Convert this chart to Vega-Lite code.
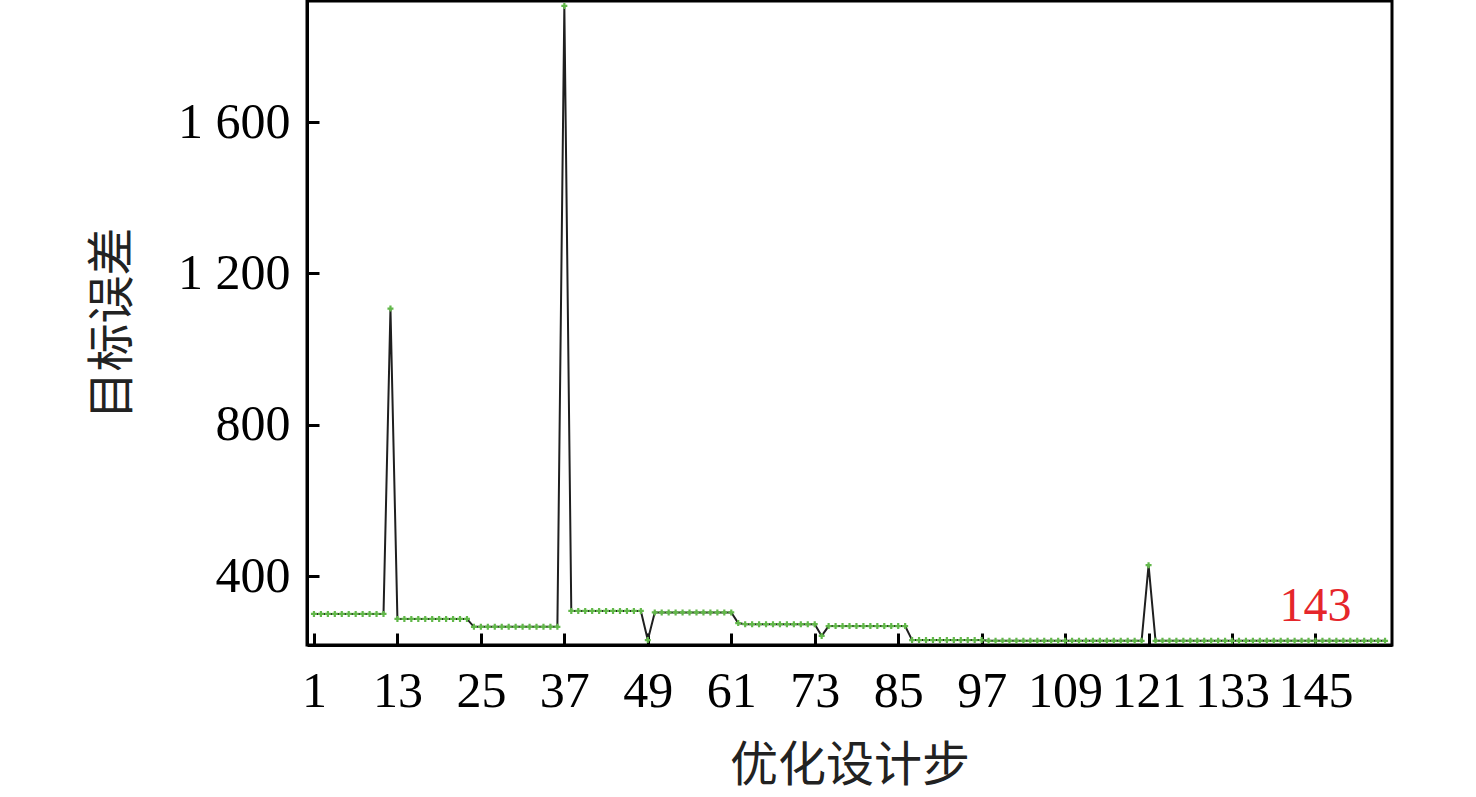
{
  "$schema": "https://vega.github.io/schema/vega-lite/v6.json",
  "width": 1085,
  "height": 644,
  "autosize": "none",
  "padding": {"left": 307, "top": 1, "right": 84, "bottom": 152},
  "background": "white",
  "config": {
    "view": {"stroke": "black", "strokeWidth": 3},
    "axis": {
      "grid": false,
      "domainColor": "black",
      "domainWidth": 3,
      "tickColor": "black",
      "tickWidth": 3,
      "tickSize": -12,
      "labelFont": "Liberation Serif",
      "labelFontSize": 50,
      "labelColor": "black",
      "labelFlush": false,
      "labelOverlap": false,
      "titleFont": "Noto Sans CJK SC",
      "titleFontSize": 48,
      "titleFontWeight": "normal",
      "titleColor": "#222"
    }
  },
  "data": {
    "values": [
      {"s":1,"v":300},{"s":2,"v":300},{"s":3,"v":300},{"s":4,"v":300},{"s":5,"v":300},{"s":6,"v":300},{"s":7,"v":300},{"s":8,"v":300},{"s":9,"v":300},{"s":10,"v":300},{"s":11,"v":300},
      {"s":12,"v":1107},
      {"s":13,"v":287},{"s":14,"v":287},{"s":15,"v":287},{"s":16,"v":287},{"s":17,"v":287},{"s":18,"v":287},{"s":19,"v":287},{"s":20,"v":287},{"s":21,"v":287},{"s":22,"v":287},{"s":23,"v":287},
      {"s":24,"v":266},{"s":25,"v":266},{"s":26,"v":266},{"s":27,"v":266},{"s":28,"v":266},{"s":29,"v":266},{"s":30,"v":266},{"s":31,"v":266},{"s":32,"v":266},{"s":33,"v":266},{"s":34,"v":266},{"s":35,"v":266},{"s":36,"v":266},
      {"s":37,"v":1907},
      {"s":38,"v":308},{"s":39,"v":308},{"s":40,"v":308},{"s":41,"v":308},{"s":42,"v":308},{"s":43,"v":308},{"s":44,"v":308},{"s":45,"v":308},{"s":46,"v":308},{"s":47,"v":308},{"s":48,"v":308},
      {"s":49,"v":231},
      {"s":50,"v":304},{"s":51,"v":304},{"s":52,"v":304},{"s":53,"v":304},{"s":54,"v":304},{"s":55,"v":304},{"s":56,"v":304},{"s":57,"v":304},{"s":58,"v":304},{"s":59,"v":304},{"s":60,"v":304},{"s":61,"v":304},
      {"s":62,"v":276},
      {"s":63,"v":273},{"s":64,"v":273},{"s":65,"v":273},{"s":66,"v":273},{"s":67,"v":273},{"s":68,"v":273},{"s":69,"v":273},{"s":70,"v":273},{"s":71,"v":273},{"s":72,"v":273},{"s":73,"v":273},
      {"s":74,"v":242},
      {"s":75,"v":268},{"s":76,"v":268},{"s":77,"v":268},{"s":78,"v":268},{"s":79,"v":268},{"s":80,"v":268},{"s":81,"v":268},{"s":82,"v":268},{"s":83,"v":268},{"s":84,"v":268},{"s":85,"v":268},{"s":86,"v":268},
      {"s":87,"v":231},{"s":88,"v":231},{"s":89,"v":231},{"s":90,"v":231},{"s":91,"v":231},{"s":92,"v":231},{"s":93,"v":231},{"s":94,"v":231},{"s":95,"v":231},{"s":96,"v":231},{"s":97,"v":231},
      {"s":98,"v":229},{"s":99,"v":229},{"s":100,"v":229},{"s":101,"v":229},{"s":102,"v":229},{"s":103,"v":229},{"s":104,"v":229},{"s":105,"v":229},{"s":106,"v":229},{"s":107,"v":229},{"s":108,"v":229},{"s":109,"v":229},{"s":110,"v":229},{"s":111,"v":229},{"s":112,"v":229},{"s":113,"v":229},{"s":114,"v":229},{"s":115,"v":229},{"s":116,"v":229},{"s":117,"v":229},{"s":118,"v":229},{"s":119,"v":229},{"s":120,"v":229},
      {"s":121,"v":429},
      {"s":122,"v":229},{"s":123,"v":229},{"s":124,"v":229},{"s":125,"v":229},{"s":126,"v":229},{"s":127,"v":229},{"s":128,"v":229},{"s":129,"v":229},{"s":130,"v":229},{"s":131,"v":229},{"s":132,"v":229},{"s":133,"v":229},{"s":134,"v":229},{"s":135,"v":229},{"s":136,"v":229},{"s":137,"v":229},{"s":138,"v":229},{"s":139,"v":229},{"s":140,"v":229},{"s":141,"v":229},{"s":142,"v":229},{"s":143,"v":229},{"s":144,"v":229},{"s":145,"v":229},{"s":146,"v":229},{"s":147,"v":229},{"s":148,"v":229},{"s":149,"v":229},{"s":150,"v":229},{"s":151,"v":229},{"s":152,"v":229},{"s":153,"v":229},{"s":154,"v":229},{"s":155,"v":229}
    ]
  },
  "encoding": {
    "x": {
      "field": "s",
      "type": "quantitative",
      "scale": {"domain": [0, 156], "nice": false, "zero": false},
      "axis": {
        "title": "优化设计步",
        "values": [1, 13, 25, 37, 49, 61, 73, 85, 97, 109, 121, 133, 145],
        "labelPadding": 33,
        "titlePadding": 26
      }
    },
    "y": {
      "field": "v",
      "type": "quantitative",
      "scale": {"domain": [218, 1920], "nice": false, "zero": false},
      "axis": {
        "title": "目标误差",
        "values": [400, 800, 1200, 1600],
        "labelExpr": "datum.value >= 1000 ? floor(datum.value / 1000) + ' ' + format(datum.value % 1000, '03d') : format(datum.value, 'd')",
        "labelPadding": 29,
        "labelBaseline": "middle",
        "titlePadding": 40
      }
    }
  },
  "layer": [
    {"mark": {"type": "line", "color": "#1f1f1f", "strokeWidth": 2}},
    {"mark": {"type": "point", "shape": "M-1,0H1M0,-1V1", "stroke": "#62b84a", "strokeWidth": 2.2, "size": 36, "filled": false, "opacity": 1}},
    {
      "data": {"values": [{"s": 145, "v": 318, "t": "143"}]},
      "mark": {"type": "text", "color": "#e5262b", "font": "Liberation Serif", "fontSize": 48, "baseline": "middle", "align": "center"},
      "encoding": {"text": {"field": "t"}}
    }
  ]
}
